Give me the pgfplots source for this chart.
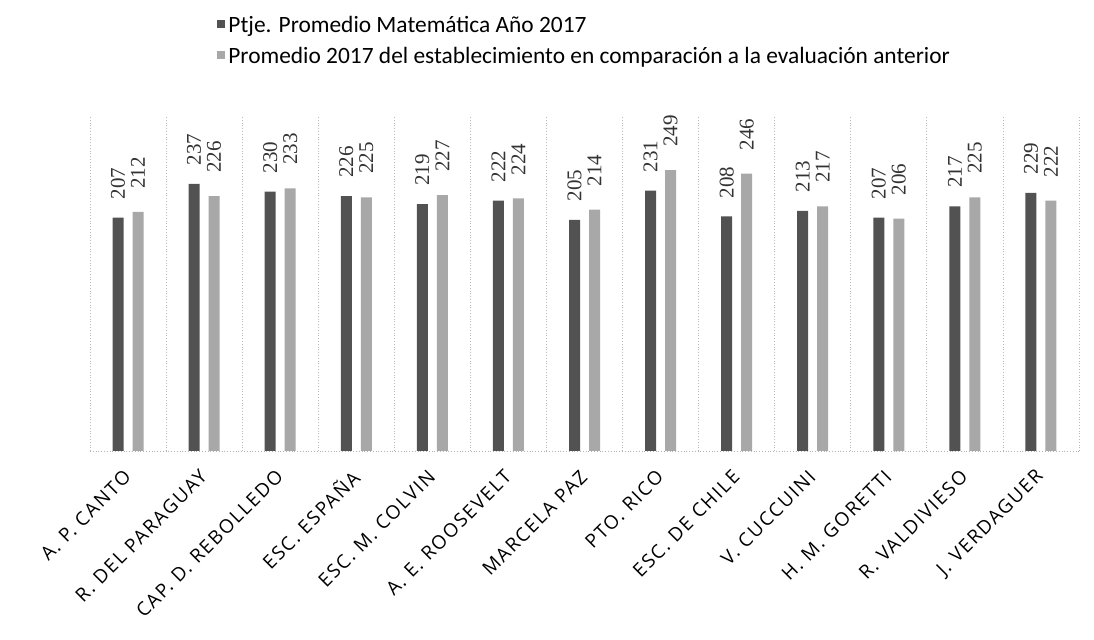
\documentclass[border=0pt]{standalone}
\usepackage{fontspec}
\usepackage{pgfplots}
\pgfplotsset{compat=1.18}
\setmainfont{Carlito}
\newfontfamily\legfont{Carlito}
\newfontfamily\tickfont[LetterSpace=9]{Open Sans}
\newfontfamily\valfont{Liberation Serif}
\definecolor{darkbar}{gray}{0.32}
\definecolor{lightbar}{gray}{0.66}
\begin{document}
\begin{tikzpicture}
\useasboundingbox (0,0) rectangle (547pt,320pt);
\begin{axis}[
  at={(45pt,94.5pt)}, anchor=south west,
  scale only axis, width=494.5pt, height=168pt,
  xmin=-0.5, xmax=12.5, ymin=0, ymax=298,
  ybar=4.5pt, bar width=5.5pt,
  hide y axis,
  axis x line*=bottom,
  x axis line style={gray!60, densely dotted, -},
  xtick={0,...,12},
  xticklabels={A. P. CANTO, R. DEL PARAGUAY, CAP. D. REBOLLEDO, ESC. ESPAÑA, ESC. M. COLVIN, A. E. ROOSEVELT, MARCELA PAZ, PTO. RICO, ESC. DE CHILE, V. CUCCUINI, H. M. GORETTI, R. VALDIVIESO, J. VERDAGUER},
  xticklabel style={font=\tickfont\fontsize{9.5pt}{11pt}\selectfont, xshift=0.5pt, yshift=-10.5pt, rotate=45, anchor=east, inner sep=1pt},
  major tick length=0pt,
  extra x ticks={-0.5,0.5,1.5,2.5,3.5,4.5,5.5,6.5,7.5,8.5,9.5,10.5,11.5,12.5},
  extra x tick labels={},
  extra x tick style={grid=major, major grid style={gray!55, densely dotted}},
  /pgf/number format/assume math mode=true,
  nodes near coords,
  nodes near coords style={font=\valfont\fontsize{10.5pt}{12pt}\selectfont, rotate=90, anchor=west, inner ysep=0pt, text=black!80},
  legend style={at={(0.1284,1.2976)}, anchor=north west, draw=none, fill=none,
    font=\legfont\fontsize{11.7pt}{14pt}\selectfont, row sep=4pt, inner sep=0pt,
    nodes={inner sep=0pt, text height=8.5pt, text depth=3pt},
    column sep=1.5pt},
  legend cell align=left,
  legend image code/.code={\fill[#1, draw=none] (0pt,-0.5pt) rectangle (4pt,3.5pt);},
]
\addplot[fill=darkbar, draw=none, nodes near coords style={inner xsep=9pt}] coordinates {
(0,207) (1,237) (2,230) (3,226) (4,219) (5,222) (6,205) (7,231) (8,208) (9,213) (10,207) (11,217) (12,229)};
\addplot[fill=lightbar, draw=none, nodes near coords style={inner xsep=11.5pt}] coordinates {
(0,212) (1,226) (2,233) (3,225) (4,227) (5,224) (6,214) (7,249) (8,246) (9,217) (10,206) (11,225) (12,222)};
\legend{Ptje. Promedio Matemática Año 2017, Promedio 2017 del establecimiento en comparación a la evaluación anterior}
\end{axis}
\end{tikzpicture}
\end{document}
